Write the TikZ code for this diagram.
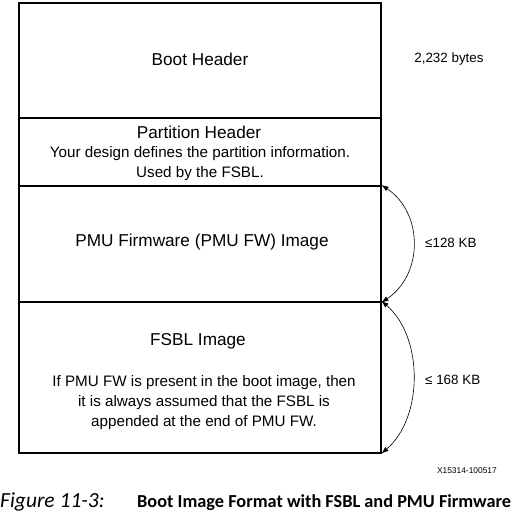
\documentclass[tikz,border=0pt]{standalone}
\usepackage{fontspec}
\setmainfont{Liberation Sans}
\newfontfamily\capfont{Carlito}
\usetikzlibrary{arrows.meta}
\begin{document}
\begin{tikzpicture}[x=1pt,y=-1pt,
  box/.style={draw, line width=1.5pt, minimum width=362pt, inner sep=0pt, anchor=north west},
  big/.style={font=\fontsize{17.2}{20}\selectfont, inner sep=0pt},
  small/.style={font=\fontsize{15.2}{20}\selectfont, inner sep=0pt, align=center},
  side/.style={font=\fontsize{13.4}{15}\selectfont, inner sep=0pt},
  arr/.style={line width=0.6pt, {Latex[length=7pt,width=5pt]}-{Latex[length=7pt,width=5pt]}}]
\useasboundingbox (0,0) rectangle (513,515);
\node[box, minimum height=115pt] (boot) at (18,2) {};
\node[box, minimum height=68pt] (part) at (18,117) {};
\node[box, minimum height=116pt] (pmu) at (18,185) {};
\node[box, minimum height=151pt] (fsbl) at (18,301) {};
\node[big] (tboot) at (200,59) {Boot Header};
\node[big] (tpart) at (199,132) {Partition Header};
\node[small] (tpartd) at (200,164) {Your design defines the partition information.\\Used by the FSBL.};
\node[big] (tpmu) at (202,242) {PMU Firmware (PMU FW) Image};
\node[big] (tfsbl) at (198,341) {FSBL Image};
\node[small] (tfsbld) at (204,403) {If PMU FW is present in the boot image, then\\it is always assumed that the FSBL is\\appended at the end of PMU FW.};
\node[side] (sboot) at (449,59) {2,232 bytes};
\node[side, anchor=west] (spmu) at (425,243) {≤128 KB};
\node[side, anchor=west] (sfsbl) at (425,380) {≤ 168 KB};
\draw[arr] (pmu.north east) .. controls +(42,28) and +(42,-28) .. (pmu.south east);
\draw[arr] (fsbl.north east) .. controls +(42,36) and +(42,-36) .. (fsbl.south east);
\node[font=\fontsize{8.4}{10}\selectfont, inner sep=0pt, anchor=east] (xid) at (497,471) {X15314-100517};
\node[font=\capfont\itshape\fontsize{21.5}{24}\selectfont, inner sep=0pt, anchor=base west] (capnum) at (0,507) {Figure 11-3:};
\node[font=\capfont\bfseries\fontsize{18.3}{22}\selectfont, inner sep=0pt, anchor=base west] (captext) at (137,507) {Boot Image Format with FSBL and PMU Firmware};
\end{tikzpicture}
\end{document}
